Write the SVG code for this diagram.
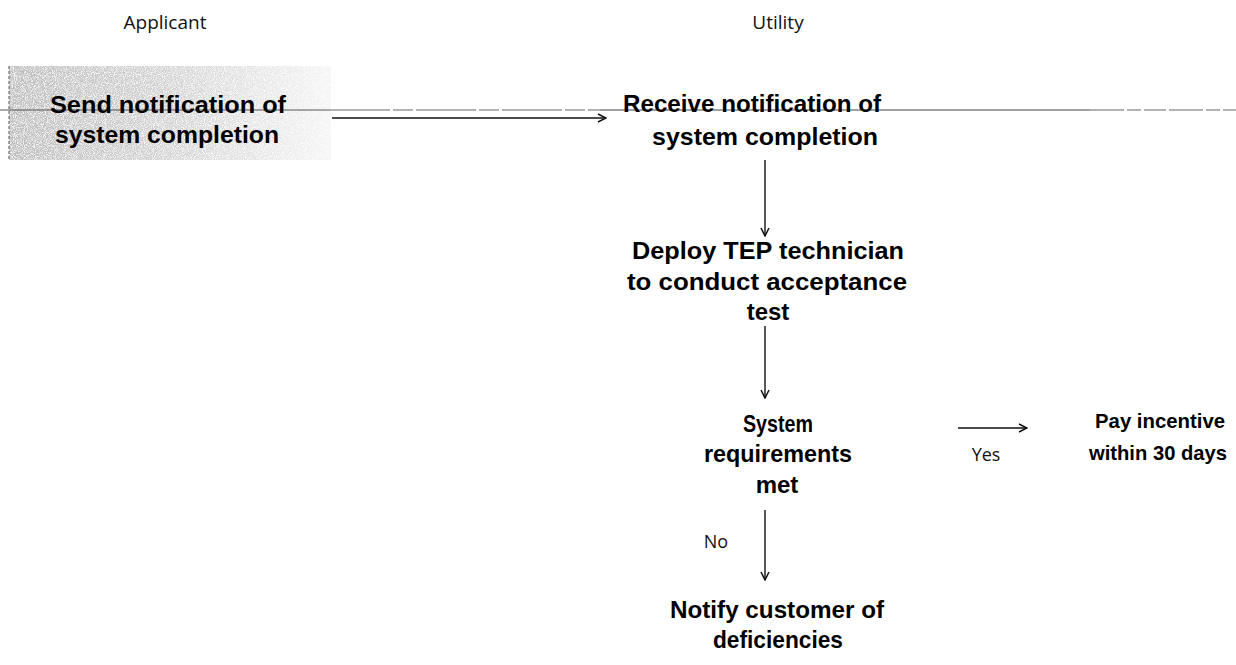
<svg xmlns="http://www.w3.org/2000/svg" width="1236" height="665" viewBox="0 0 1236 665">
  <defs>
    <style>
      .lane { font-family: "Open Sans", "Liberation Sans", sans-serif; font-size: 19px; fill: #111; text-anchor: middle; }
      .node { font-family: "Liberation Sans", Arial, sans-serif; font-weight: bold; font-size: 24px; fill: #000; text-anchor: middle; }
      .small { font-size: 21px; }
      .lbl { font-family: "Open Sans", "Liberation Sans", sans-serif; font-size: 18px; fill: #111; text-anchor: middle; }
      .conn { stroke: #111; stroke-width: 1.4; fill: none; }
    </style>
    <marker id="arrow" viewBox="0 0 10 10" refX="9" refY="5" markerWidth="10" markerHeight="10" markerUnits="userSpaceOnUse" orient="auto">
      <path d="M1,1 L9,5 L1,9" fill="none" stroke="#111" stroke-width="1.5"/>
    </marker>
    <linearGradient id="shade" x1="0" y1="0" x2="1" y2="0">
      <stop offset="0" stop-color="#bcbcbc"/>
      <stop offset="0.5" stop-color="#d2d2d2"/>
      <stop offset="1" stop-color="#f5f5f5"/>
    </linearGradient>
    <!-- speckled halftone texture for the shaded step -->
    <filter id="grain" x="0" y="0" width="100%" height="100%">
      <feTurbulence type="fractalNoise" baseFrequency="1.1" numOctaves="1" seed="4" result="n"/>
      <feColorMatrix in="n" type="matrix" values="0 0 0 0 1  0 0 0 0 1  0 0 0 0 1  0 0 0 -3 1.75" result="holes"/>
      <feComposite in="holes" in2="SourceGraphic" operator="in" result="w"/>
      <feMerge><feMergeNode in="SourceGraphic"/><feMergeNode in="w"/></feMerge>
    </filter>
  </defs>

  <rect width="1236" height="665" fill="#fff"/>

  <!-- lane headings -->
  <g id="lane-applicant"><text class="lane" x="165" y="29">Applicant</text></g>
  <g id="lane-utility"><text class="lane" x="778" y="29">Utility</text></g>

  <!-- shaded applicant step background -->
  <rect x="9" y="66" width="322" height="94" fill="url(#shade)" filter="url(#grain)"/>
  <line x1="9" y1="66" x2="9" y2="160" stroke="#555" stroke-width="1" stroke-dasharray="3 2"/>

  <!-- lane separator -->
  <g id="separator">
    <line x1="0" y1="110" x2="330" y2="110" stroke="#555" stroke-width="1"/>
    <line x1="330" y1="110" x2="600" y2="110" stroke="#9a9a9a" stroke-width="1.3" stroke-dasharray="60 3 20 3"/>
    <line x1="600" y1="110" x2="1090" y2="110" stroke="#444" stroke-width="1.2"/>
    <line x1="1090" y1="110" x2="1236" y2="110" stroke="#999" stroke-width="1.6" stroke-dasharray="34 3 14 3 22 3"/>
  </g>

  <!-- connectors -->
  <g id="connectors">
    <line class="conn" x1="332" y1="118" x2="606" y2="118" marker-end="url(#arrow)"/>
    <line class="conn" x1="765" y1="160" x2="765" y2="236" marker-end="url(#arrow)"/>
    <line class="conn" x1="765" y1="326" x2="765" y2="398" marker-end="url(#arrow)"/>
    <line class="conn" x1="958" y1="428" x2="1027" y2="428" marker-end="url(#arrow)"/>
    <line class="conn" x1="765" y1="510" x2="765" y2="580" marker-end="url(#arrow)"/>
    <text class="lbl" x="986" y="461">Yes</text>
    <text class="lbl" x="716" y="548">No</text>
  </g>

  <!-- nodes -->
  <g id="send">
    <text class="node" x="168" y="113" textLength="236" lengthAdjust="spacingAndGlyphs">Send notification of</text>
    <text class="node" x="167" y="143" textLength="224" lengthAdjust="spacingAndGlyphs">system completion</text>
  </g>
  <g id="receive">
    <text class="node" x="752" y="112" textLength="258" lengthAdjust="spacingAndGlyphs">Receive notification of</text>
    <text class="node" x="765" y="145" textLength="226" lengthAdjust="spacingAndGlyphs">system completion</text>
  </g>
  <g id="deploy">
    <text class="node" x="768" y="259" textLength="272" lengthAdjust="spacingAndGlyphs">Deploy TEP technician</text>
    <text class="node" x="767" y="290" textLength="280" lengthAdjust="spacingAndGlyphs">to conduct acceptance</text>
    <text class="node" x="768" y="320">test</text>
  </g>
  <g id="requirements">
    <text class="node" x="778" y="432" textLength="70" lengthAdjust="spacingAndGlyphs">System</text>
    <text class="node" x="778" y="462" textLength="148" lengthAdjust="spacingAndGlyphs">requirements</text>
    <text class="node" x="777" y="493">met</text>
  </g>
  <g id="pay">
    <text class="node small" x="1160" y="428" textLength="130" lengthAdjust="spacingAndGlyphs">Pay incentive</text>
    <text class="node small" x="1158" y="460" textLength="138" lengthAdjust="spacingAndGlyphs">within 30 days</text>
  </g>
  <g id="notify">
    <text class="node" x="777" y="618" textLength="214" lengthAdjust="spacingAndGlyphs">Notify customer of</text>
    <text class="node" x="778" y="648" textLength="130" lengthAdjust="spacingAndGlyphs">deficiencies</text>
  </g>
</svg>
